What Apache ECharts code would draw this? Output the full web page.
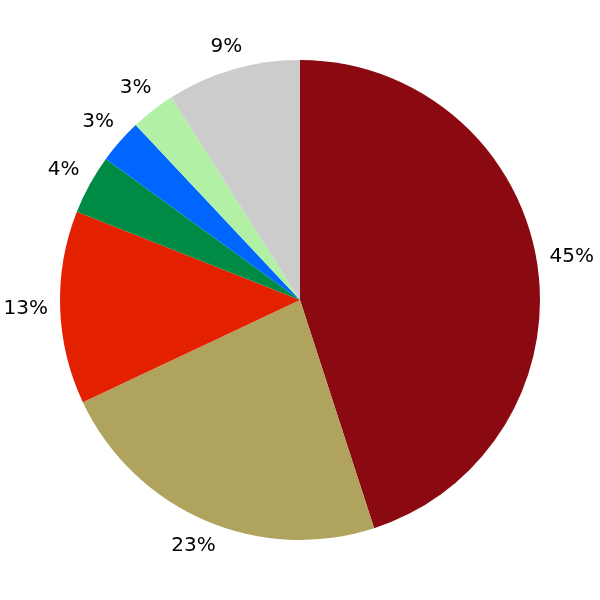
<!DOCTYPE html>
<html><head><meta charset="utf-8">
<script src="https://cdn.jsdelivr.net/npm/echarts@6/dist/echarts.min.js"></script>
<style>html,body{margin:0;padding:0;background:#fff}#c{width:600px;height:600px}</style>
</head><body><div id="c"></div>
<script>
const names = ['A','B','C','D','E','F','G'];
const values = [45, 23, 13, 4, 3, 3, 9];
const colors = ['#8B0A12', '#B0A35E', '#E32000', '#008B45', '#0066FF', '#B2F0A5', '#CCCCCC'];

const CX = 300, CY = 300, R = 240, GAP = 12;
const total = values.reduce((a, b) => a + b, 0);
const midAngles = [];
(function () {
  let acc = 0;
  values.forEach(v => { midAngles.push((acc + v / 2) / total * 2 * Math.PI); acc += v; });
})();

const chart = echarts.init(document.getElementById('c'), null, {renderer: 'canvas'});
chart.setOption({
  animation: false,
  backgroundColor: '#ffffff',
  series: [{
    type: 'pie',
    center: [CX, CY],
    radius: [0, R],
    startAngle: 90,
    clockwise: true,
    avoidLabelOverlap: false,
    data: names.map((n, i) => ({name: n, value: values[i], itemStyle: {color: colors[i]}})),
    label: {
      show: true,
      position: 'outside',
      formatter: p => p.value + '%',
      fontFamily: 'DejaVu Sans',
      fontSize: 20,
      color: '#000'
    },
    labelLine: {show: false},
    labelLayout: function (p) {
      const a = midAngles[p.dataIndex];
      const ux = Math.sin(a), uy = -Math.cos(a);
      const hw = p.labelRect.width / 2, hh = 8;
      const r = R + GAP + Math.abs(ux) * hw + Math.abs(uy) * hh;
      return {x: CX + ux * r, y: CY + uy * r, align: 'center', verticalAlign: 'middle'};
    },
    emphasis: {disabled: true}
  }]
});
</script></body></html>
